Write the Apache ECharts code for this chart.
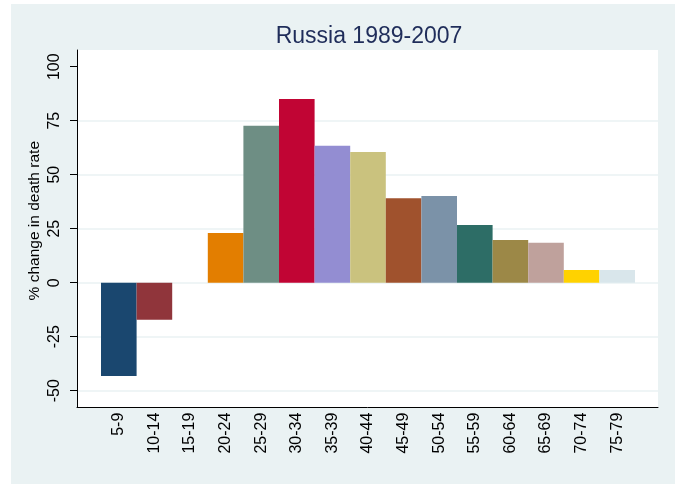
<!DOCTYPE html>
<html>
<head>
<meta charset="utf-8">
<script src="https://cdn.jsdelivr.net/npm/echarts@6/dist/echarts.min.js"></script>
<style>
    body { margin: 0; background: #fff; }
    .outer { position: absolute; left: 11px; top: 4px; width: 664px; height: 480px; background: #eaf2f3; }
    #chart { position: absolute; left: 0; top: 0; width: 681px; height: 485px; }
</style>
</head>
<body>
<div class="outer"></div>
<div id="chart"></div>
<script>
let ageGroups = ['5-9', '10-14', '15-19', '20-24', '25-29', '30-34', '35-39', '40-44',
    '45-49', '50-54', '55-59', '60-64', '65-69', '70-74', '75-79']
let changePct = [-43.2, -17.1, 0, 23.0, 72.7, 85.0, 63.4, 60.5, 39.1, 40.1, 26.7, 19.8, 18.5, 5.9, 5.9]
let barColors = ['#1a476f', '#90353b', '#55752f', '#e37e00', '#6e8e84', '#c10534', '#938dd2', '#cac27e',
    '#a0522d', '#7b92a8', '#2d6d66', '#9c8847', '#bfa19c', '#ffd200', '#d9e6eb']

let font = 'Liberation Sans, Arial, sans-serif'
let chart = echarts.init(document.getElementById('chart'), null, { renderer: 'canvas' })

// grid 0: plot region frame, grid 1: y scale, grid 2: bars
let plotBox = { left: 77, right: 23, top: 50, bottom: 78 }
let scaleBox = { top: 66.7, bottom: 94.3 }

chart.setOption({
    backgroundColor: 'transparent',
    animation: false,
    title: {
        text: 'Russia 1989-2007',
        left: 364,
        top: 20,
        textAlign: 'center',
        textStyle: { fontFamily: font, fontSize: 23, fontWeight: 'normal', color: '#1f2d5a' }
    },
    grid: [
        { left: plotBox.left, right: plotBox.right, top: plotBox.top, bottom: plotBox.bottom,
          show: true, backgroundColor: '#fff', borderWidth: 0 },
        { left: plotBox.left, right: plotBox.right, top: scaleBox.top, bottom: scaleBox.bottom },
        { left: 101, right: 46, top: scaleBox.top, bottom: scaleBox.bottom }
    ],
    xAxis: [
        { gridIndex: 0, type: 'value', min: 0, max: 1,
          axisLine: { show: true, lineStyle: { color: '#000', width: 1 } },
          axisTick: { show: false }, axisLabel: { show: false }, splitLine: { show: false } },
        { gridIndex: 1, type: 'value', min: 0, max: 1, show: false },
        { gridIndex: 2, type: 'category', data: ageGroups,
          axisLine: { show: false }, axisTick: { show: false },
          axisLabel: { interval: 0, rotate: 90, margin: 22, fontFamily: font, fontSize: 16, color: '#000' } }
    ],
    yAxis: [
        { gridIndex: 0, type: 'value', min: 0, max: 1,
          axisLine: { show: true, lineStyle: { color: '#000', width: 1 } },
          axisTick: { show: false }, axisLabel: { show: false }, splitLine: { show: false } },
        { gridIndex: 1, type: 'value', min: -50, max: 100, interval: 25,
          name: '% change in death rate',
          nameLocation: 'middle',
          nameGap: 34,
          nameMoveOverlap: false,
          nameTextStyle: { fontFamily: font, fontSize: 15.5, color: '#000', padding: [0, 0, 0, 16] },
          axisLine: { show: false },
          axisTick: { show: true, length: 7, lineStyle: { color: '#000' } },
          axisLabel: { rotate: 90, margin: 14, fontFamily: font, fontSize: 16, color: '#000' },
          splitLine: { show: true, lineStyle: { width: 1.5,
              color: ['#eaf2f3', '#eaf2f3', '#eaf2f3', '#eaf2f3', '#eaf2f3', '#eaf2f3', 'rgba(0,0,0,0)'] } } },
        { gridIndex: 2, type: 'value', min: -50, max: 100, show: false }
    ],
    series: [
        {
            name: '% change',
            type: 'bar',
            xAxisIndex: 2,
            yAxisIndex: 2,
            barCategoryGap: 0,
            data: changePct.map(function (v, i) {
                return { value: v, itemStyle: { color: barColors[i] } }
            })
        }
    ]
})
</script>
</body>
</html>
